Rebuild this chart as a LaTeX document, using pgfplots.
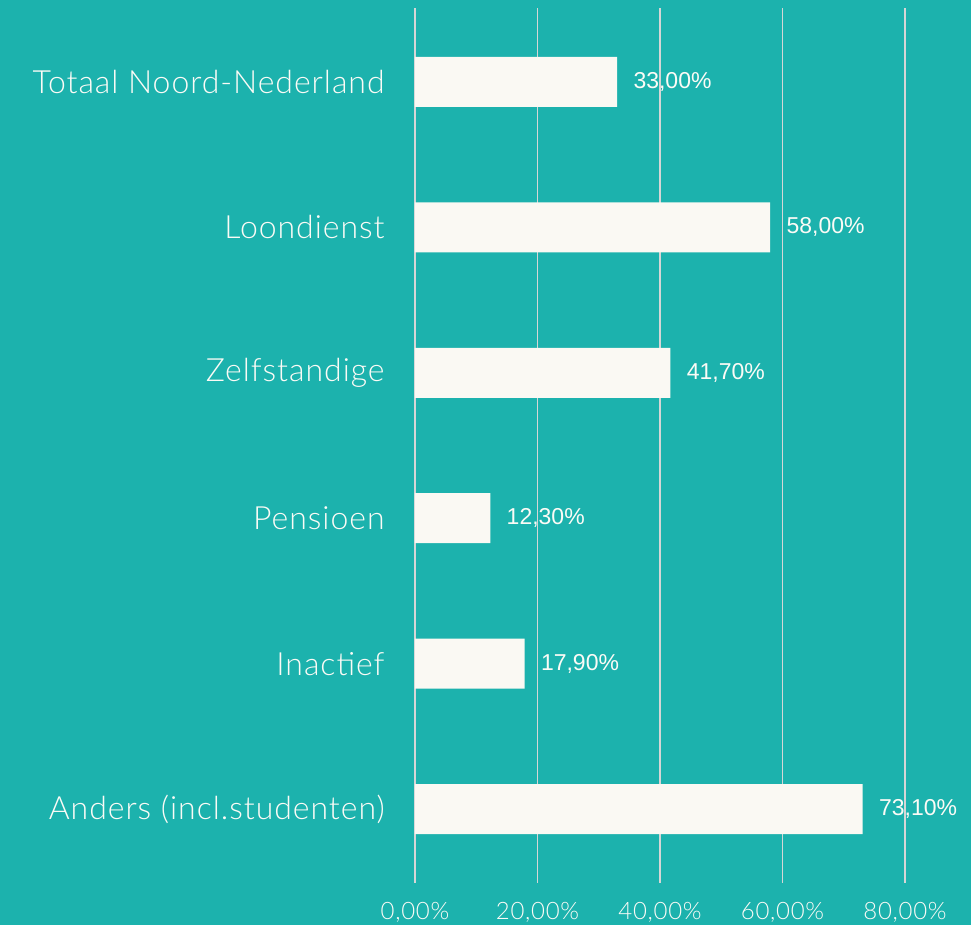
\documentclass[border=0pt]{standalone}
\usepackage{pgfplots}
\pgfplotsset{compat=1.18}
\usepackage{fontspec}
\IfFontExistsTF{Lato Light}{\setmainfont{Lato Light}[LetterSpace=3]}{\setmainfont{Lato}[LetterSpace=3]}
\newfontfamily\valfont{Liberation Sans}
\definecolor{bg}{HTML}{1CB2AD}
\definecolor{barc}{HTML}{FAF9F3}
\definecolor{gridc}{HTML}{D6D6D6}
\definecolor{txt}{HTML}{FBFBF6}
\begin{document}
\begin{tikzpicture}
\fill[bg] (-207.5pt,-21pt) rectangle (278pt,441.5pt);
\begin{axis}[
  at={(0,0)}, anchor=south west,
  scale only axis, width=245pt, height=437.5pt,
  xmin=0, xmax=80, ymin=-0.508, ymax=5.508, y dir=reverse,
  xbar, bar width=25pt,
  axis line style={draw=none},
  tick style={draw=none}, major tick length=0pt,
  xtick={0,20,40,60,80},
  xticklabels={{0,00\%},{20,00\%},{40,00\%},{60,00\%},{80,00\%}},
  xmajorgrids, grid style={gridc, line width=0.9pt},
  ytick={0,1,2,3,4,5},
  yticklabels={Totaal Noord-Nederland,Loondienst,Zelfstandige,Pensioen,Inactief,Anders (incl.studenten)},
  yticklabel style={font=\fontsize{16}{19}\selectfont, text=txt, anchor=east, inner sep=0pt, xshift=-15pt},
  xticklabel style={font=\fontsize{12}{14}\selectfont, text=txt, anchor=north, inner sep=0pt, yshift=-9.5pt},
  clip=false,
  point meta=x,
  nodes near coords={\pgfmathprintnumber[assume math mode=true,fixed,fixed zerofill,precision=2,use comma]{\pgfplotspointmeta}\%},
  nodes near coords style={font=\valfont\fontsize{11.5}{13}\selectfont, text=txt, anchor=west, inner sep=0pt, xshift=8pt},
]
\addplot[fill=barc, draw=none] coordinates {(33,0) (58,1) (41.7,2) (12.3,3) (17.9,4) (73.1,5)};
\end{axis}
\pgfresetboundingbox
\path (-207.5pt,-21pt) rectangle (278pt,441.5pt);
\end{tikzpicture}
\end{document}
